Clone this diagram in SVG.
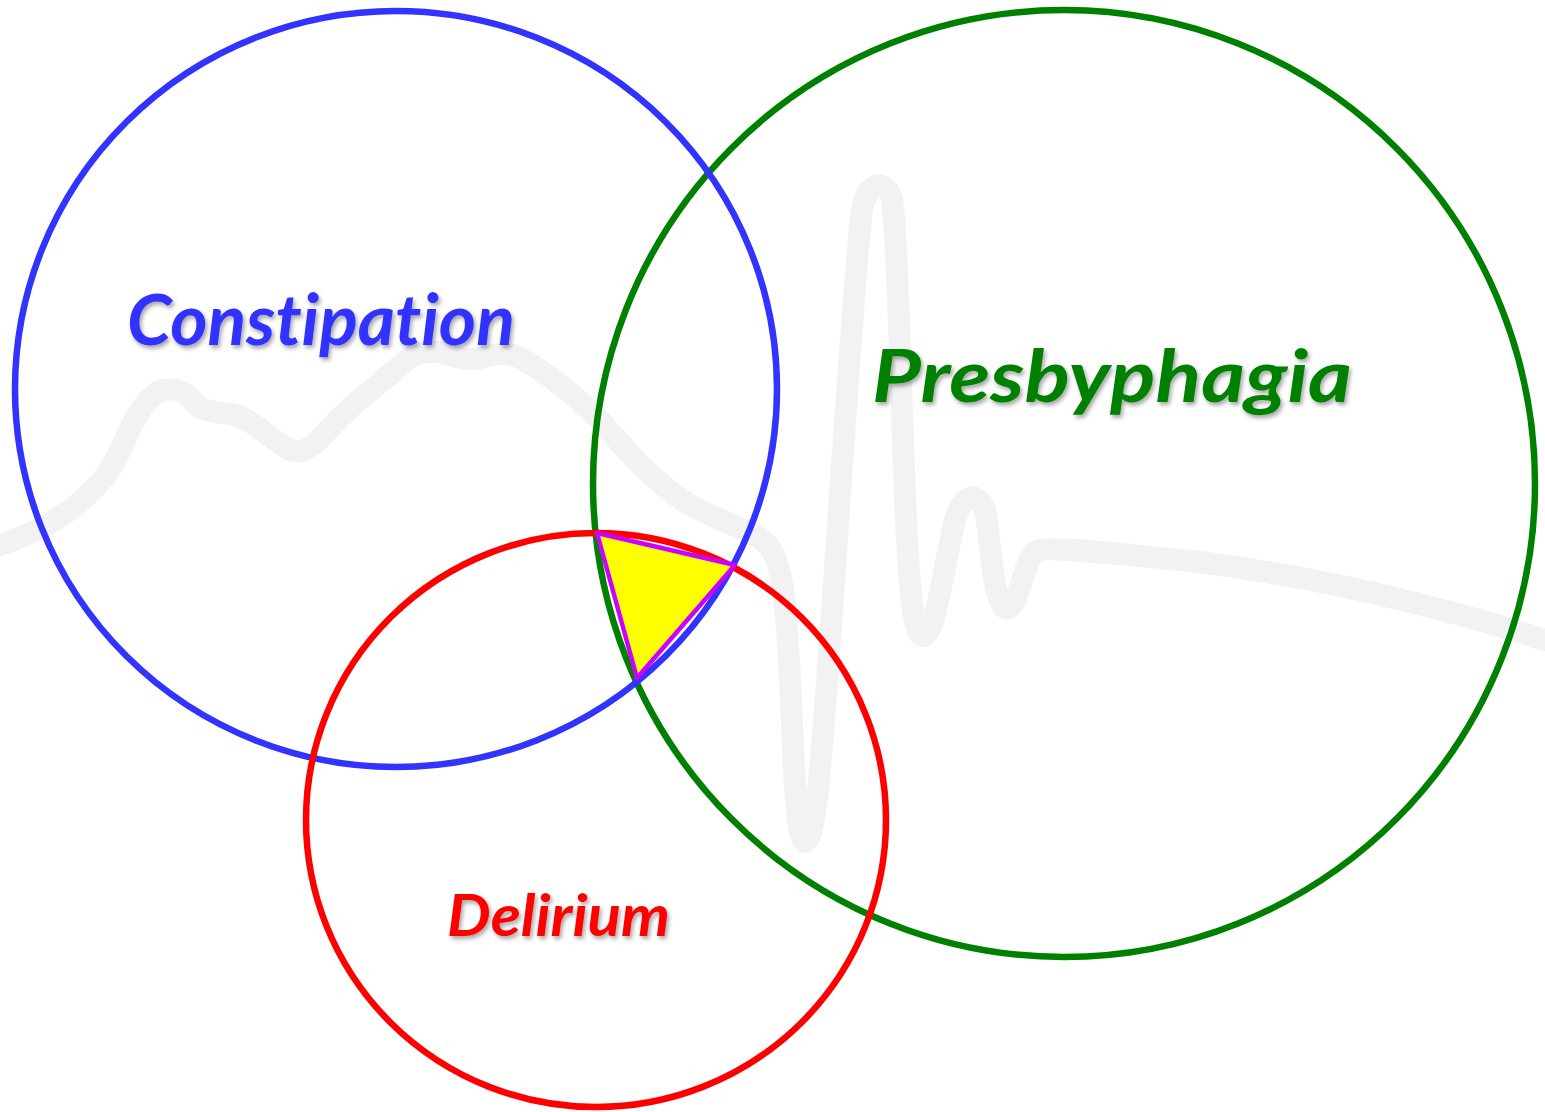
<svg xmlns="http://www.w3.org/2000/svg" width="1545" height="1112" viewBox="0 0 1545 1112">
<defs>
<filter id="sh" x="-10%" y="-20%" width="120%" height="150%">
<feDropShadow dx="2" dy="3" stdDeviation="2" flood-color="#000" flood-opacity="0.35"/>
</filter>
<style>
.lbl{font-family:Lato,"Open Sans","Liberation Sans",sans-serif;font-weight:bold;font-style:italic;filter:url(#sh);font-variant-ligatures:none;font-feature-settings:"liga" 0}
.ring{fill:none;stroke-width:6.5}
</style>
</defs>
<rect width="1545" height="1112" fill="#fff"/>
<g id="background-trace">
<path d="M0,545 C40,532 80,510 110,470 C125,445 130,420 150,398 C162,386 180,386 192,400 C200,412 215,412 232,414 C255,420 270,440 290,450 C305,455 315,445 330,428 C350,405 375,388 395,370 C410,356 420,350 440,352 C455,356 465,362 480,358 C495,355 505,350 520,358 C545,372 575,395 600,420 C625,448 650,480 690,505 C720,522 750,528 768,545 C782,560 786,600 790,680 C794,760 795,840 805,842 C815,842 820,780 830,640 C840,500 855,260 862,210 C868,180 886,178 892,200 C898,240 900,380 906,520 C910,600 914,638 924,636 C936,632 945,560 955,520 C962,495 978,490 985,510 C990,530 992,600 1005,608 C1018,614 1022,565 1035,552 C1045,545 1100,552 1200,562 C1300,575 1420,600 1545,640" fill="none" stroke="#f2f2f4" stroke-width="22" stroke-linecap="round" stroke-linejoin="round"/>
</g>
<g id="presbyphagia">
<ellipse class="ring" cx="1064" cy="483.5" rx="471" ry="473.5" stroke="#008000"/>
</g>
<g id="constipation">
<ellipse class="ring" cx="396" cy="389" rx="381" ry="378" stroke="#3333ff"/>
</g>
<g id="delirium">
<ellipse class="ring" cx="596" cy="820" rx="290" ry="287" stroke="#ff0000"/>
</g>
<g id="intersection">
<polygon points="597,533 735,565 637,678" fill="#ffff00" stroke="#cc00ff" stroke-width="4.5" stroke-linejoin="round"/>
</g>
<g id="labels">
<text class="lbl" x="127" y="345" font-size="70" fill="#3333ff" textLength="388" lengthAdjust="spacingAndGlyphs">Constipation</text>
<text class="lbl" x="872" y="402" font-size="73" fill="#008000" textLength="480" lengthAdjust="spacingAndGlyphs">Presbyphagia</text>
<text class="lbl" x="447" y="936" font-size="58" fill="#ff0000" textLength="223" lengthAdjust="spacingAndGlyphs">Delirium</text>
</g>
</svg>
